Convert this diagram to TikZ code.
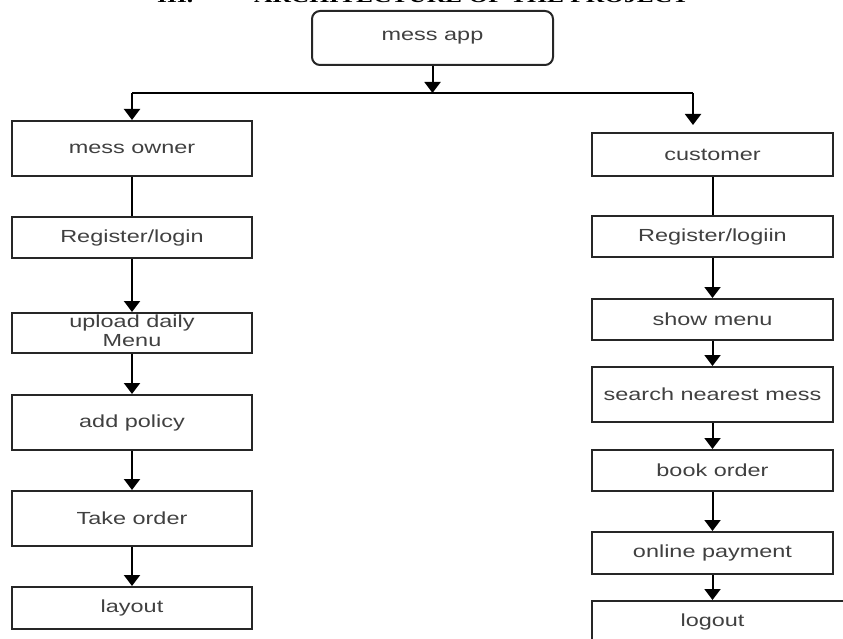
\documentclass[tikz,border=0pt]{standalone}
\usepackage{fontspec}
\setmainfont{Liberation Sans}
\newfontfamily\titlefont{Liberation Serif}
\usetikzlibrary{arrows.meta}
\newcommand{\hs}[1]{\scalebox{1.34}[1]{#1}}
\begin{document}
\begin{tikzpicture}[x=1pt,y=-1pt,
  box/.style={draw=black!85, line width=2pt, minimum width=240pt, inner sep=0pt,
    text=black!75, font=\fontsize{17.5}{19}\selectfont},
  conn/.style={line width=2pt, draw=black},
  arr/.style={conn, -{Triangle[width=16pt,length=11pt]}},
  ttl/.style={anchor=base west, inner sep=0pt, font=\titlefont\bfseries\fontsize{19}{20}\selectfont}]
\useasboundingbox (0,0) rectangle (843,639);
% title (cut off at the top)
\node[ttl] (t1) at (157,3) {\hs{III.}};
\node[ttl] (t2) at (254,3) {\hs{ARCHITECTURE OF THE PROJECT}};
% root
\node[box, rounded corners=8pt, minimum width=241pt, minimum height=54pt] (app) at (432.5,38) {\hs{mess app}};
% left column
\node[box, minimum height=55pt] (owner) at (132,148.5) {\hs{mess owner}};
\node[box, minimum height=41pt] (reg1) at (132,237.5) {\hs{Register/login}};
\node[box, minimum height=40pt] (upload) at (132,333) {\hs{\begin{tabular}{@{}c@{}}upload daily\\Menu\end{tabular}}};
\node[box, minimum height=55pt] (policy) at (132,422.5) {\hs{add policy}};
\node[box, minimum height=55pt] (take) at (132,518.5) {\hs{Take order}};
\node[box, minimum height=42pt] (layout) at (132,608) {\hs{layout}};
% right column
\node[box, minimum width=241pt, minimum height=43pt] (cust) at (712.5,154.5) {\hs{customer}};
\node[box, minimum width=241pt, minimum height=41pt] (reg2) at (712.5,236.5) {\hs{Register/logiin}};
\node[box, minimum width=241pt, minimum height=41pt] (show) at (712.5,319.5) {\hs{show menu}};
\node[box, minimum width=241pt, minimum height=55pt] (search) at (712.5,394.5) {\hs{search nearest mess}};
\node[box, minimum width=241pt, minimum height=41pt] (book) at (712.5,470.5) {\hs{book order}};
\node[box, minimum width=241pt, minimum height=42pt] (pay) at (712.5,553) {\hs{online payment}};
\node[box, draw=none, minimum width=241pt, minimum height=41pt] (logout) at (712.5,621.5) {\hs{logout}};
\draw[draw=black!85, line width=2pt] ([xshift=1pt,yshift=-1pt]logout.north west) -- ++(0,60)
  ([yshift=-1pt]logout.north west) -- ++(280,0);
% junction
\coordinate (j) at (432.5,93);
\coordinate (jl) at (132,93);
\coordinate (jr) at (693,93);
\coordinate (rtip) at (693,125);
\draw[arr] (app) -- (j);
\draw[conn] (jl) -- (jr);
\draw[arr] (jl) -- (owner);
\draw[arr] (jr) -- (rtip);
% left chain
\draw[conn] (owner) -- (reg1);
\draw[arr] (reg1) -- (upload);
\draw[arr] (upload) -- (policy);
\draw[arr] (policy) -- (take);
\draw[arr] (take) -- (layout);
% right chain
\draw[conn] (cust) -- (reg2);
\draw[arr] (reg2) -- (show);
\draw[arr] (show) -- (search);
\draw[arr] (search) -- (book);
\draw[arr] (book) -- (pay);
\draw[arr] (pay) -- (logout.north);
\end{tikzpicture}
\end{document}
